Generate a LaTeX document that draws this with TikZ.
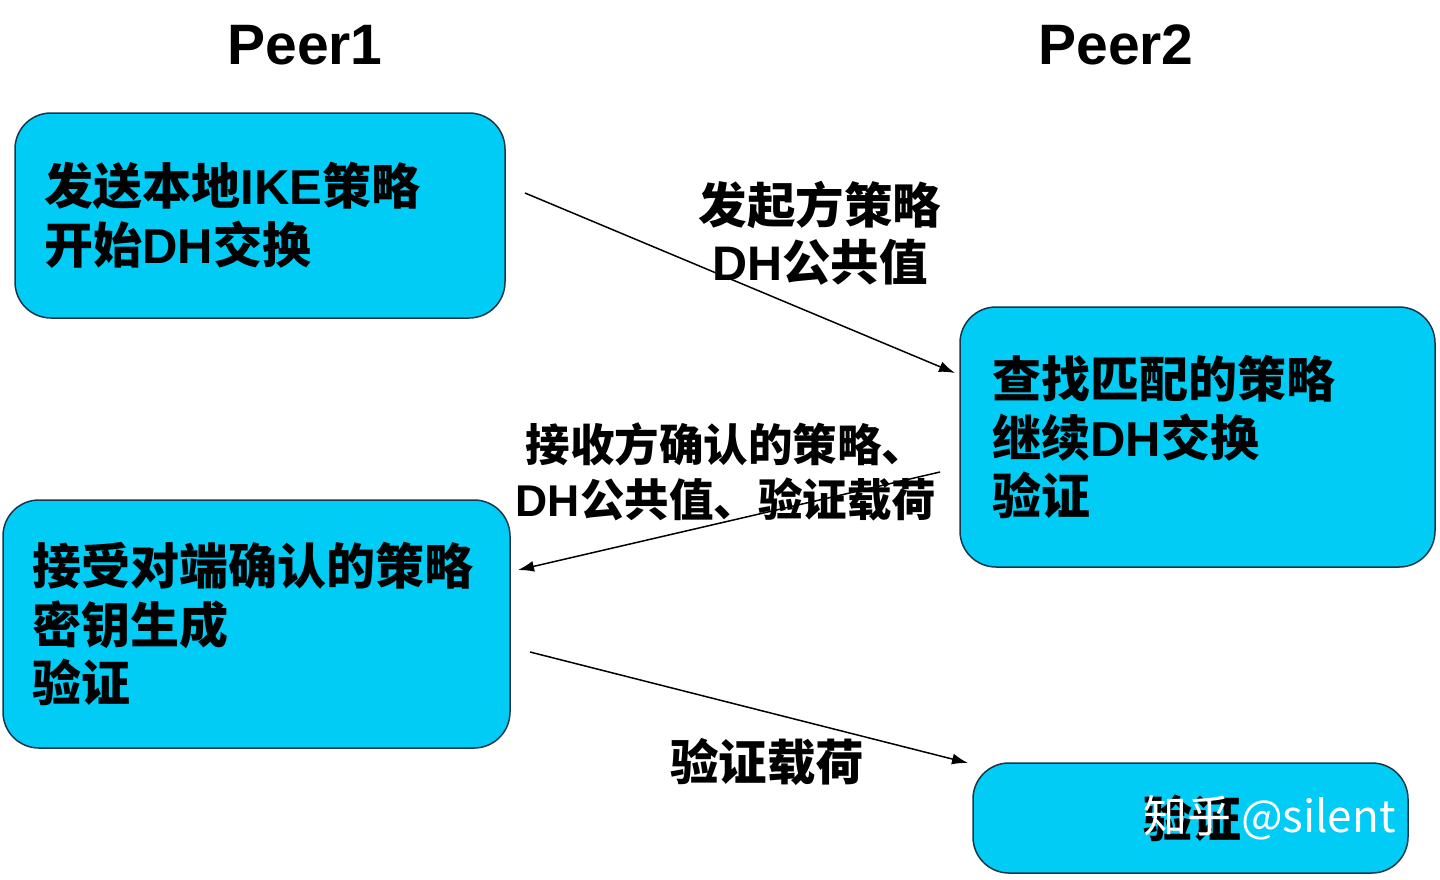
\documentclass[tikz,border=0pt]{standalone}
\usepackage{fontspec}
\setmainfont{Liberation Sans}
\newfontfamily\cjk{Noto Sans CJK SC}
\usetikzlibrary{arrows.meta}
\definecolor{boxfill}{RGB}{0,204,245}
\definecolor{boxline}{RGB}{25,55,75}
\newcommand\C[1]{{\cjk #1}}
\begin{document}
\begin{tikzpicture}[x=1pt,y=-1pt,
 box/.style={draw=boxline, line width=1.5pt, fill=boxfill, rounded corners=36pt, inner sep=0pt},
 btext/.style={font=\bfseries\fontsize{49pt}{58.5pt}\selectfont, align=left, anchor=west, inner sep=0pt},
 lbl/.style={font=\bfseries\fontsize{48.5pt}{57pt}\selectfont, align=center, inner sep=0pt},
 ttl/.style={font=\bfseries\fontsize{57pt}{60pt}\selectfont, inner sep=0pt},
 msg/.style={line width=1.5pt, -{Latex[length=16pt,width=11pt]}}]
\fill[white] (0,0) rectangle (1440,879);
\useasboundingbox (0,0) rectangle (1440,879);
% titles
\node[ttl] (p1) at (305,45) {Peer1};
\node[ttl] (p2) at (1116,45) {Peer2};
% boxes
\node[box, minimum width=490pt, minimum height=205pt] (b1) at (260,215.5) {};
\node[box, minimum width=475pt, minimum height=260pt] (b2) at (1197.5,437) {};
\node[box, minimum width=507pt, minimum height=248pt] (b3) at (256.5,624) {};
\node[box, minimum width=435pt, minimum height=110pt] (b4) at (1190.5,818) {};
% box texts
\node[btext] (t1) at ([xshift=30pt]b1.west) {\C{发送本地}IKE\C{策略}\\\C{开始}DH\C{交换}};
\node[btext] (t2) at ([xshift=33pt]b2.west) {\C{查找匹配的策略}\\\C{继续}DH\C{交换}\\\C{验证}};
\node[btext] (t3) at ([xshift=30pt]b3.west) {\C{接受对端确认的策略}\\\C{密钥生成}\\\C{验证}};
\node[btext] (t4) at (1143,818) {\C{验证}};
\node[anchor=west, inner sep=0pt, text=white, font=\cjk\fontsize{44pt}{44pt}\selectfont] (wm) at (1143,818) {知乎 @silent};
% arrows
\coordinate (a1s) at (525,193);
\coordinate (a1e) at (955,373);
\coordinate (a2s) at (940,472);
\coordinate (a2e) at (518,570);
\coordinate (a3s) at (530,652);
\coordinate (a3e) at (968,763);
\draw[msg] (a1s) -- (a1e);
\draw[msg] (a2s) -- (a2e);
\draw[msg] (a3s) -- (a3e);
% labels
\node[lbl] (l1) at (820,233) {\C{发起方策略}\\DH\C{公共值}};
\node[lbl, font=\bfseries\fontsize{44.5pt}{55pt}\selectfont] (l2) at (726,472) {\C{接收方确认的策略、}\\DH\C{公共值、验证载荷}};
\node[lbl] (l3) at (767,762) {\C{验证载荷}};
\end{tikzpicture}
\end{document}
